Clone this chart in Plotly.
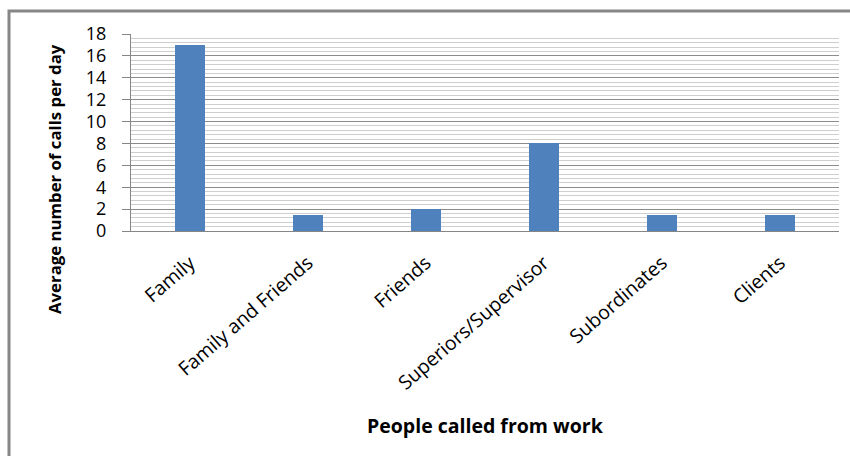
import plotly.graph_objects as go

# People called from work and the average number of calls per day
categories = ["Family", "Family and Friends", "Friends",
              "Superiors/Supervisor", "Subordinates", "Clients"]
calls_per_day = [17, 1.5, 2, 8, 1.5, 1.5]
y_ticks = [0, 2, 4, 6, 8, 10, 12, 14, 16, 18]

W, H = 850, 456
L, R, T, B = 131, 11, 34, 225
pw, ph = W - L - R, H - T - B

def px_x(x):
    return (x - L) / pw

def px_y(y):
    return (H - B - y) / ph

FONT = "Open Sans"

fig = go.Figure(
    go.Bar(
        x=categories,
        y=calls_per_day,
        width=0.25,
        marker=dict(color="#4F81BD", line=dict(width=0)),
    )
)

fig.update_layout(
    width=W, height=H,
    margin=dict(l=L, r=R, t=T, b=B, autoexpand=False),
    paper_bgcolor="white", plot_bgcolor="white",
    showlegend=False,
    font=dict(family=FONT, color="#000000"),
    bargap=0,
)

fig.update_yaxes(
    range=[0, 18],
    tickvals=y_ticks,
    ticktext=[str(v) for v in y_ticks],
    tickfont=dict(size=18, family=FONT),
    ticks="outside", ticklen=8, tickcolor="#868686",
    ticklabelstandoff=12,
    showline=True, linecolor="#868686", linewidth=1,
    showgrid=True, gridcolor="#8c8c8c", gridwidth=1,
    minor=dict(dtick=0.4, showgrid=True, gridcolor="#cfcfcf", gridwidth=1),
    zeroline=False,
    automargin=False,
)

fig.update_xaxes(
    tickangle=-41,
    tickfont=dict(size=19.5, family=FONT),
    showline=True, linecolor="#868686", linewidth=1,
    showgrid=False, ticks="",
    ticklabelstandoff=12,
    automargin=False,
)

# Axis titles
fig.add_annotation(
    text="<b>Average number of calls per day</b>",
    xref="paper", yref="paper",
    x=px_x(54), y=px_y(179),
    textangle=-90, showarrow=False,
    font=dict(size=16.8, family=FONT),
    xanchor="center", yanchor="middle",
)
fig.add_annotation(
    text="<b>People called from work</b>",
    xref="paper", yref="paper",
    x=px_x(485), y=px_y(425),
    showarrow=False,
    font=dict(size=19.5, family=FONT),
    xanchor="center", yanchor="middle",
)

# Chart frame
fig.add_shape(
    type="rect", xref="paper", yref="paper",
    x0=px_x(9), x1=px_x(860), y0=px_y(470), y1=px_y(11),
    line=dict(color="#878787", width=3),
    fillcolor="rgba(0,0,0,0)", layer="below",
)

fig.write_html("out.html")
